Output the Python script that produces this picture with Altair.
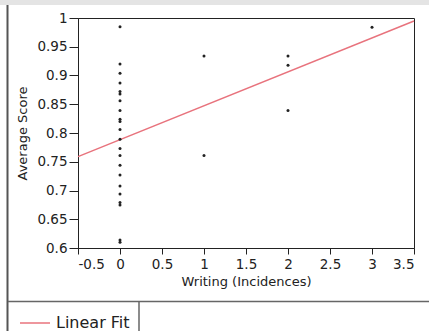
import altair as alt
import pandas as pd

# Observations: writing incidences vs. average score
writing = [0] * 22 + [1, 1] + [2, 2, 2] + [3]
score = [
    0.985, 0.920, 0.904, 0.887, 0.872, 0.868, 0.856, 0.839, 0.824, 0.820,
    0.806, 0.789, 0.773, 0.761, 0.744, 0.727, 0.708, 0.694, 0.679, 0.675,
    0.614, 0.610,
    0.934, 0.761,
    0.934, 0.918, 0.839,
    0.984,
]

x_ticks = [-0.5, 0, 0.5, 1, 1.5, 2, 2.5, 3, 3.5]
y_ticks = [0.6, 0.65, 0.7, 0.75, 0.8, 0.85, 0.9, 0.95, 1]

FONT = "DejaVu Sans"
INK = "#222222"
FIT_COLOR = "#e8737d"

df = pd.DataFrame({"x": writing, "y": score})
base = alt.Chart(df)

x_enc = alt.X(
    "x:Q",
    scale=alt.Scale(domain=[-0.5, 3.5], nice=False, zero=False),
    axis=alt.Axis(values=x_ticks, labelExpr="'' + datum.value",
                  title="Writing (Incidences)", tickSize=6, labelPadding=3,
                  titlePadding=5, labelOverlap=False),
)
y_enc = alt.Y(
    "y:Q",
    scale=alt.Scale(domain=[0.6, 1.0], nice=False, zero=False),
    axis=alt.Axis(values=y_ticks, labelExpr="'' + datum.value",
                  title="Average Score", tickSize=9, labelPadding=2,
                  titlePadding=7, labelOverlap=False),
)

points = base.mark_circle(size=9, color=INK, opacity=1).encode(x=x_enc, y=y_enc)

fit = (
    base.transform_regression("x", "y", extent=[-0.5, 3.5])
    .transform_calculate(series="'Linear Fit'")
    .mark_line(strokeWidth=1.5)
    .encode(
        x=x_enc,
        y=y_enc,
        color=alt.Color(
            "series:N",
            scale=alt.Scale(range=[FIT_COLOR]),
            legend=alt.Legend(
                title=None, orient="none", legendX=-59, legendY=289,
                symbolType="stroke", symbolSize=900, symbolStrokeWidth=1.5,
                labelFontSize=16, labelFont=FONT, labelColor=INK,
                labelOffset=5, padding=0,
            ),
        ),
    )
)

one = alt.Data(values=[{"k": 0}])

# Window chrome: grey strip on top, outer frame, legend compartment
top_strip = alt.Chart(one).mark_rect(color="#e4e4e4").encode(
    x=alt.value(-78), x2=alt.value(351), y=alt.value(-18), y2=alt.value(-13)
)
left_edge = alt.Chart(one).mark_rule(color="#555555", strokeWidth=2).encode(
    x=alt.value(-70.5), y=alt.value(-13), y2=alt.value(313)
)
legend_top = alt.Chart(one).mark_rule(color="#666666", strokeWidth=1.5).encode(
    x=alt.value(-70), x2=alt.value(351), y=alt.value(283.5)
)
legend_side = alt.Chart(one).mark_rule(color="#666666", strokeWidth=1.5).encode(
    x=alt.value(61), y=alt.value(283.5), y2=alt.value(313)
)

chart = (
    alt.layer(top_strip, left_edge, legend_top, legend_side, fit, points)
    .properties(
        width=336, height=230, autosize="none",
        padding={"left": 78, "top": 18, "right": 15, "bottom": 83},
    )
    .configure_view(stroke=INK, strokeWidth=1)
    .configure_axis(
        grid=False, domainColor=INK, tickColor=INK, labelColor=INK,
        titleColor=INK, labelFont=FONT, titleFont=FONT, labelFontSize=13.5,
        titleFontSize=13, titleFontWeight="normal", labelOverlap=False,
    )
)

chart.save("out.html", embed_options={"renderer": "svg", "actions": False})
